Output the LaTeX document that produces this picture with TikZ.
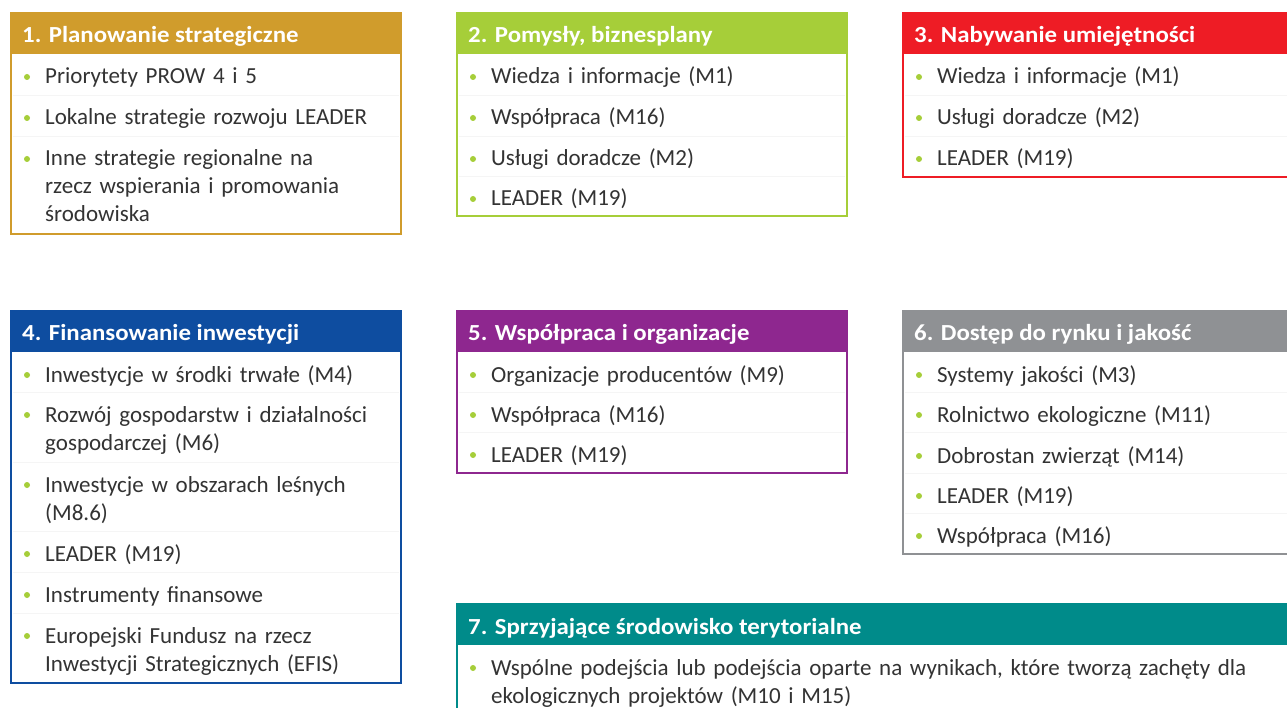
\documentclass[tikz,border=0pt]{standalone}
\usepackage{fontspec}
\setmainfont{Carlito}
\newfontfamily\hdrfont[FakeStretch=1.08]{Carlito}
\definecolor{cgold}{HTML}{D09C2C}
\definecolor{clime}{HTML}{A6CE39}
\definecolor{cred}{HTML}{EE1C25}
\definecolor{cblue}{HTML}{0E4DA0}
\definecolor{cpurple}{HTML}{8E278F}
\definecolor{cgray}{HTML}{8F9194}
\definecolor{cteal}{HTML}{008B8A}
\definecolor{ctxt}{HTML}{333333}
\definecolor{cbul}{HTML}{A6CE39}
\tikzset{
  hdrtext/.style={text=white, font=\hdrfont\fontsize{23}{27}\selectfont\bfseries, inner sep=0pt, anchor=base west},
  itm/.style={text=ctxt, font=\fontsize{23}{28}\selectfont, inner sep=0pt, anchor=base west, align=left, text width=820pt},
  bul/.style={circle, fill=cbul, inner sep=0pt, minimum size=6pt},
  sepline/.style={draw=black!4, line width=0.8pt},
  frame/.style={line width=2pt},
}
\newcommand\catbox[5]{% x, top, right, bottom, colour
  \draw[frame, #5] (#1+1,#2+1) rectangle (#3-1,#4-1);
  \fill[#5] (#1,#2) rectangle (#3,#2+42);
}
\newcommand\bitem[4]{% name, box x, baseline, text
  \node[itm] (#1) at (#2+35,#3) {#4};
  \node[bul] (#1b) at (#2+17,#3-7) {};
}
\newcommand\sepl[3]{% x, right, y
  \draw[sepline] (#1+3,#3) -- (#2-3,#3);
}
\begin{document}
\begin{tikzpicture}[x=1pt,y=-1pt]
\clip (0,0) rectangle (1287,708);
\fill[white] (0,0) rectangle (1287,708);

% Box 1
\catbox{10}{12}{402}{235}{cgold}
\node[hdrtext] (h1) at (22,43) {1. Planowanie strategiczne};
\sepl{10}{402}{95}\sepl{10}{402}{136}
\bitem{a1}{10}{84}{Priorytety PROW 4 i 5}
\bitem{a2}{10}{125}{Lokalne strategie rozwoju LEADER}
\bitem{a3}{10}{166}{Inne strategie regionalne na\\rzecz wspierania i promowania\\środowiska}

% Box 2
\catbox{456}{12}{848}{217}{clime}
\node[hdrtext] (h2) at (468,43) {2. Pomysły, biznesplany};
\sepl{456}{848}{95}\sepl{456}{848}{136}\sepl{456}{848}{176}
\bitem{b1}{456}{84}{Wiedza i informacje (M1)}
\bitem{b2}{456}{125}{Współpraca (M16)}
\bitem{b3}{456}{166}{Usługi doradcze (M2)}
\bitem{b4}{456}{206}{LEADER (M19)}

% Box 3
\catbox{902}{12}{1300}{178}{cred}
\node[hdrtext] (h3) at (914,43) {3. Nabywanie umiejętności};
\sepl{902}{1300}{95}\sepl{902}{1300}{136}
\bitem{c1}{902}{84}{Wiedza i informacje (M1)}
\bitem{c2}{902}{125}{Usługi doradcze (M2)}
\bitem{c3}{902}{166}{LEADER (M19)}

% Box 4
\catbox{10}{310}{402}{684}{cblue}
\node[hdrtext] (h4) at (22,341) {4. Finansowanie inwestycji};
\sepl{10}{402}{392}\sepl{10}{402}{462}\sepl{10}{402}{531}\sepl{10}{402}{572}\sepl{10}{402}{613}
\bitem{d1}{10}{382}{Inwestycje w środki trwałe (M4)}
\bitem{d2}{10}{422}{Rozwój gospodarstw i działalności\\gospodarczej (M6)}
\bitem{d3}{10}{492}{Inwestycje w obszarach leśnych\\(M8.6)}
\bitem{d4}{10}{561}{LEADER (M19)}
\bitem{d5}{10}{602}{Instrumenty finansowe}
\bitem{d6}{10}{643}{Europejski Fundusz na rzecz\\Inwestycji Strategicznych (EFIS)}

% Box 5
\catbox{456}{310}{848}{474}{cpurple}
\node[hdrtext] (h5) at (468,341) {5. Współpraca i organizacje};
\sepl{456}{848}{392}\sepl{456}{848}{432}
\bitem{e1}{456}{382}{Organizacje producentów (M9)}
\bitem{e2}{456}{422}{Współpraca (M16)}
\bitem{e3}{456}{462}{LEADER (M19)}

% Box 6
\catbox{902}{310}{1300}{555}{cgray}
\node[hdrtext] (h6) at (914,341) {6. Dostęp do rynku i jakość};
\sepl{902}{1300}{392}\sepl{902}{1300}{432}\sepl{902}{1300}{473}\sepl{902}{1300}{513}
\bitem{f1}{902}{382}{Systemy jakości (M3)}
\bitem{f2}{902}{422}{Rolnictwo ekologiczne (M11)}
\bitem{f3}{902}{463}{Dobrostan zwierząt (M14)}
\bitem{f4}{902}{503}{LEADER (M19)}
\bitem{f5}{902}{543}{Współpraca (M16)}

% Box 7
\catbox{456}{603}{1300}{730}{cteal}
\node[hdrtext] (h7) at (468,634) {7. Sprzyjające środowisko terytorialne};
\bitem{g1}{456}{675}{Wspólne podejścia lub podejścia oparte na wynikach, które tworzą zachęty dla\\ekologicznych projektów (M10 i M15)}
\end{tikzpicture}
\end{document}
